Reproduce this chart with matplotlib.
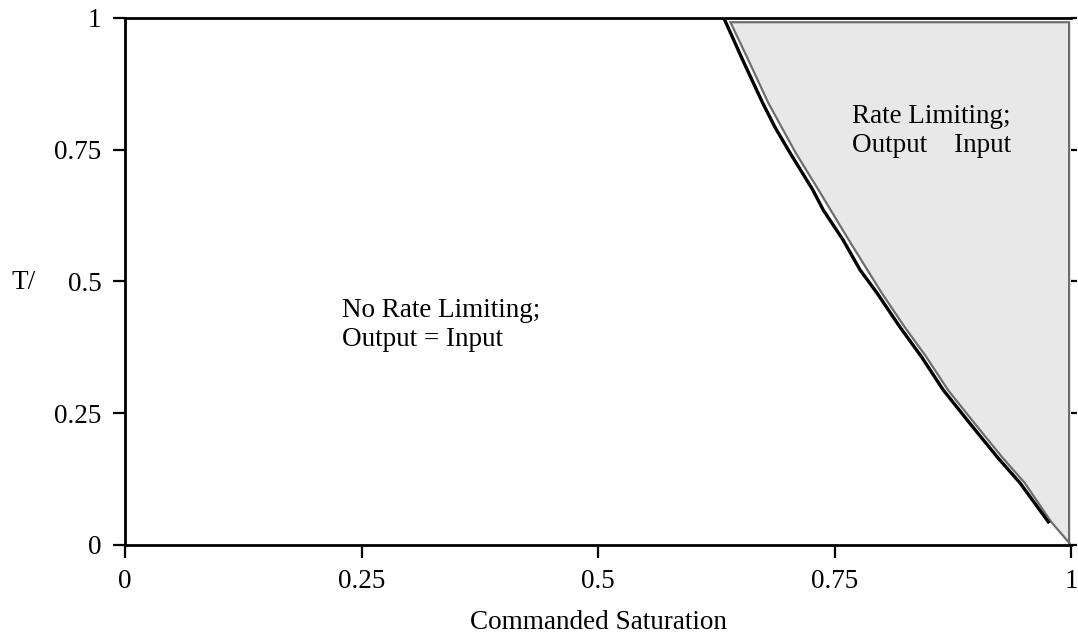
import matplotlib
matplotlib.use("Agg")
import matplotlib.pyplot as plt

plt.rcParams['font.family'] = ['Liberation Serif', 'DejaVu Serif']

# boundary between the two regions (commanded saturation vs T/tau)
boundary_sat = [0.633, 0.653, 0.674, 0.687, 0.703, 0.727, 0.738, 0.759, 0.777,
                0.795, 0.819, 0.842, 0.865, 0.893, 0.922, 0.946, 0.976]
boundary_t = [1.0, 0.920, 0.839, 0.793, 0.744, 0.674, 0.636, 0.579, 0.522,
              0.478, 0.414, 0.357, 0.294, 0.231, 0.167, 0.118, 0.044]

# shaded rate-limiting region outline
region_sat = [0.640, 0.998, 0.998, 1.0, 0.979, 0.951, 0.927, 0.898, 0.870, 0.847,
              0.824, 0.800, 0.765, 0.733, 0.709, 0.680, 0.659, 0.640]
region_t = [0.992, 0.992, 0.0, 0.0, 0.044, 0.118, 0.167, 0.231, 0.294, 0.357,
            0.414, 0.478, 0.579, 0.674, 0.744, 0.839, 0.920, 0.992]

ticks = [0, 0.25, 0.5, 0.75, 1]
tick_labels = ['0', '0.25', '0.5', '0.75', '1']

fs = 19.5

fig = plt.figure(figsize=(10.78, 6.36), dpi=100)
ax = fig.add_axes([0.116, 0.1431, 0.8775, 0.8286])

ax.fill(region_sat, region_t, facecolor='#e8e8e8', edgecolor='#6e6e6e', lw=1.6, zorder=1)
ax.plot(boundary_sat, boundary_t, color='black', lw=2.4, zorder=2)

ax.text(0.229, 0.417, 'No Rate Limiting;\nOutput = Input', fontsize=fs, va='center')
ax.text(0.7685, 0.786, 'Rate Limiting;\nOutput    Input', fontsize=fs, va='center')

ax.set_xlim(0, 1)
ax.set_ylim(0, 1)
ax.set_xticks(ticks)
ax.set_xticklabels(tick_labels)
ax.set_yticks(ticks)
ax.set_yticklabels(tick_labels)
ax.tick_params(labelsize=fs, length=9, width=1.6, direction='out', pad=8)

for side in ['left', 'bottom', 'top']:
    ax.spines[side].set_linewidth(2.0)
ax.spines['right'].set_visible(False)

right = ax.secondary_yaxis('right')
right.set_yticks(ticks)
right.set_yticklabels([])
right.tick_params(length=4, width=1.6, direction='out')
right.spines['right'].set_visible(False)

ax.set_xlabel('Commanded Saturation', fontsize=fs, labelpad=12)
fig.text(0.011, 0.556, 'T/', fontsize=fs, va='center', ha='left')

fig.savefig('out.png', dpi=100)
